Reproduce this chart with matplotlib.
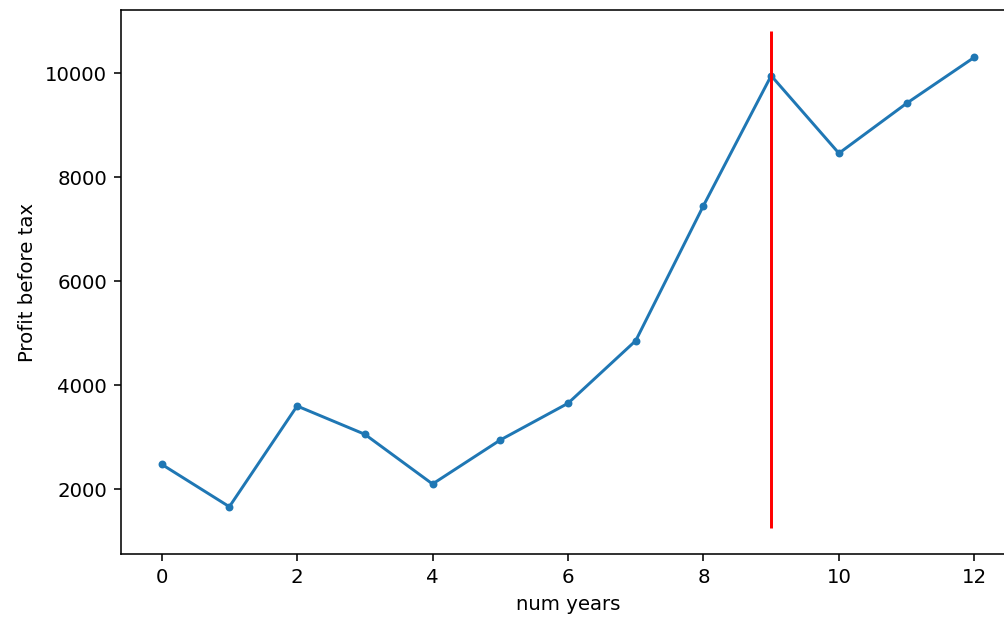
import matplotlib
matplotlib.use("Agg")
import matplotlib.pyplot as plt

years = list(range(13))
profit = [2481, 1665, 3602, 3058, 2102, 2948, 3654, 4858, 7454, 9954, 8462, 9423, 10308]

split_year = 9
split_low = 1250
split_high = 10810

dpi = 142
fig = plt.figure(figsize=(1004 / dpi, 621 / dpi), dpi=dpi)
ax = fig.add_axes([121 / 1004, 67 / 621, 894 / 1004, 544 / 621])

ax.plot(years, profit, marker='.')
ax.vlines(split_year, split_low, split_high, color='red')

ax.set_xlim(-0.6, 12.6)
ax.set_ylim(756, 11217)
ax.spines['right'].set_visible(False)
ax.set_xlabel("num years")
ax.set_ylabel("Profit before tax")

fig.savefig("out.png", dpi=dpi)
